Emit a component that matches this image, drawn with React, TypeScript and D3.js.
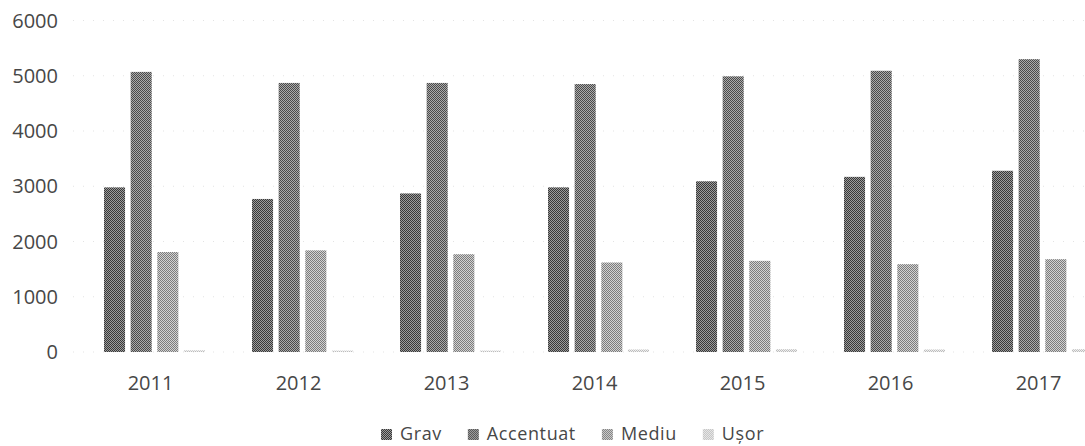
import React, { useEffect, useRef } from 'react';
import * as d3 from 'd3';

const YEARS = ['2011', '2012', '2013', '2014', '2015', '2016', '2017'];
const SERIES = ['Grav', 'Accentuat', 'Mediu', 'Ușor'];
const GRAV = [2980, 2770, 2870, 2980, 3090, 3170, 3280];
const ACCENTUAT = [5070, 4870, 4870, 4850, 4990, 5090, 5300];
const MEDIU = [1810, 1840, 1770, 1620, 1650, 1590, 1680];
const USOR = [30, 25, 25, 45, 50, 45, 50];
const Y_TICKS = [0, 1000, 2000, 3000, 4000, 5000, 6000];

// dark / light pixel pair for the dithered look of each series
const SHADES = [
  ['#383838', '#9c9c9c'],
  ['#4a4a4a', '#ababab'],
  ['#7c7c7c', '#d2d2d2'],
  ['#bdbdbd', '#efefef'],
];

const App = () => {
  const ref = useRef<SVGSVGElement>(null);

  useEffect(() => {
    const width = 1085,
      font = "'Open Sans', sans-serif",
      textColor = '#474747';

    const svg = d3.select(ref.current);
    svg.selectAll('*').remove();

    const values = [GRAV, ACCENTUAT, MEDIU, USOR];
    const rows = YEARS.map((year, i) => ({
      year,
      vals: SERIES.map((s, j) => ({ key: s, idx: j, value: values[j][i] })),
    }));

    // patterns
    const defs = svg.append('defs');
    SERIES.forEach((s, j) => {
      const p = defs
        .append('pattern')
        .attr('id', `pat${j}`)
        .attr('patternUnits', 'userSpaceOnUse')
        .attr('width', 2)
        .attr('height', 2);
      p.append('rect').attr('width', 2).attr('height', 2).attr('fill', SHADES[j][1]);
      p.append('rect').attr('width', 1).attr('height', 1).attr('fill', SHADES[j][0]);
      p.append('rect').attr('x', 1).attr('y', 1).attr('width', 1).attr('height', 1).attr('fill', SHADES[j][0]);
    });

    const y = d3.scaleLinear().domain([0, 6000]).range([352, 20.5]);
    const x0 = d3.scaleBand().domain(YEARS).range([80.5, 1116.5]).padding(0);
    const x1 = d3.scaleBand().domain(SERIES).range([0, 101]).paddingInner(0.21);

    // gridlines (faint, mostly lost in the scan)
    svg
      .append('g')
      .selectAll('line')
      .data(Y_TICKS)
      .enter()
      .append('line')
      .attr('x1', 73)
      .attr('x2', width)
      .attr('y1', d => y(d))
      .attr('y2', d => y(d))
      .attr('stroke', '#e3e3e3')
      .attr('stroke-width', 1)
      .attr('stroke-dasharray', '1 9');

    // y labels
    svg
      .append('g')
      .selectAll('text')
      .data(Y_TICKS)
      .enter()
      .append('text')
      .attr('x', 58)
      .attr('y', d => y(d))
      .attr('dy', '0.35em')
      .attr('text-anchor', 'end')
      .style('font-family', font)
      .style('font-size', '20px')
      .style('fill', textColor)
      .text(d => d);

    // bars
    const group = svg
      .selectAll('.year')
      .data(rows)
      .enter()
      .append('g')
      .attr('class', 'year')
      .attr('transform', d => `translate(${x0(d.year)! + x0.bandwidth() / 2 - 50.5}, 0)`);

    group
      .selectAll('rect')
      .data(d => d.vals)
      .enter()
      .append('rect')
      .attr('x', d => x1(d.key)!)
      .attr('y', d => y(d.value))
      .attr('width', x1.bandwidth())
      .attr('height', d => y(0) - y(d.value))
      .attr('fill', d => `url(#pat${d.idx})`);

    // x labels
    svg
      .append('g')
      .selectAll('text')
      .data(YEARS)
      .enter()
      .append('text')
      .attr('x', d => x0(d)! + x0.bandwidth() / 2 - 4)
      .attr('y', 389.5)
      .attr('text-anchor', 'middle')
      .style('font-family', font)
      .style('font-size', '20px')
      .style('fill', textColor)
      .text(d => d);

    // legend
    const legend = svg.append('g').attr('transform', 'translate(381, 440)');
    let cursor = 0;
    SERIES.forEach((s, j) => {
      const item = legend.append('g').attr('transform', `translate(${cursor}, 0)`);
      item
        .append('rect')
        .attr('x', 0)
        .attr('y', -11)
        .attr('width', 11)
        .attr('height', 11)
        .attr('fill', `url(#pat${j})`);
      const t = item
        .append('text')
        .attr('x', 19)
        .attr('y', 0)
        .style('font-family', font)
        .style('font-size', '18px')
        .style('letter-spacing', '0.6px')
        .style('fill', textColor)
        .text(s);
      const w = (t.node() as SVGTextElement).getComputedTextLength();
      cursor += 19 + w + 26;
    });
  }, []);

  return (
    <svg
      ref={ref}
      width={1085}
      height={446}
      style={{ position: 'absolute', left: 0, top: 0, background: '#fff' }}
    />
  );
};

export default App;
